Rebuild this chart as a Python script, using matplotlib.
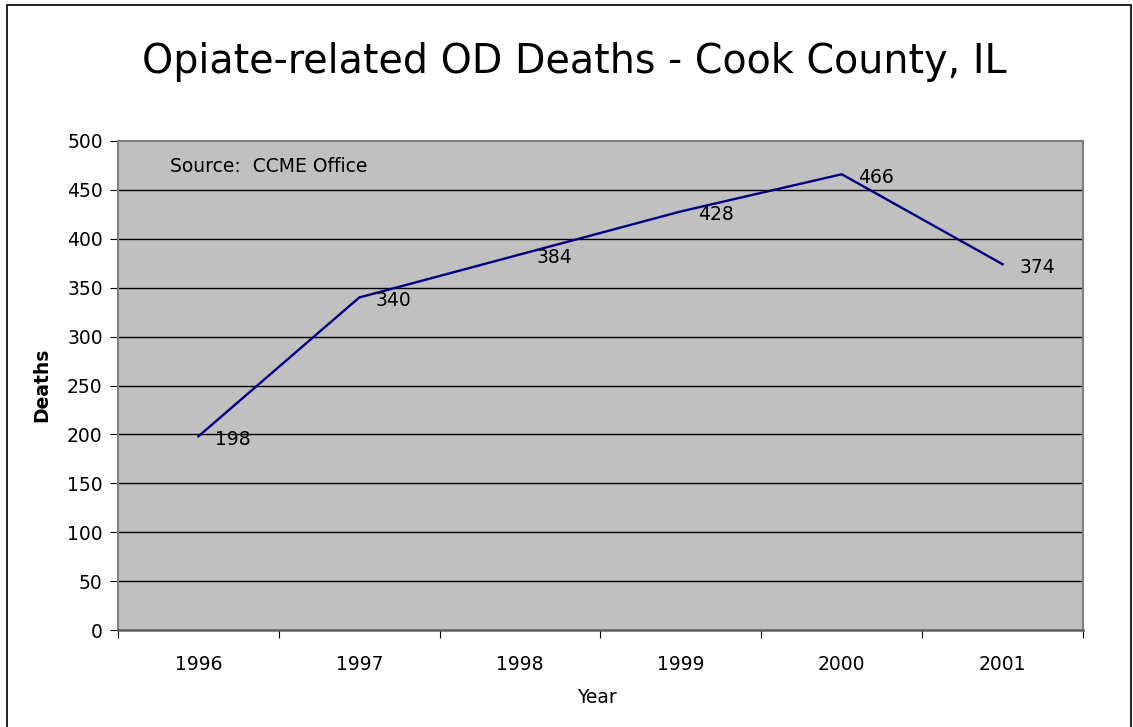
import matplotlib
matplotlib.use("Agg")
import matplotlib.pyplot as plt
from matplotlib.patches import Rectangle

years = ["1996", "1997", "1998", "1999", "2000", "2001"]
deaths = [198, 340, 384, 428, 466, 374]
yticks = [0, 50, 100, 150, 200, 250, 300, 350, 400, 450, 500]

plt.rcParams['font.family'] = ['DejaVu Sans']
fs = 13.5
fig = plt.figure(figsize=(11.33, 7.27), dpi=100)
fig.patch.set_facecolor('white')
fig.patches.append(Rectangle((7/1133, -0.05), (1131-7)/1133, 1 - 5/727 + 0.05,
                             transform=fig.transFigure, fill=False,
                             edgecolor='black', linewidth=1.2))

ax = fig.add_axes([118/1133, 1 - 630/727, (1083-118)/1133, (630-141)/727])
ax.set_facecolor('#C0C0C0')
x = list(range(len(years)))
ax.plot(x, deaths, color='#000080', linewidth=1.7, zorder=3)
for xi, v in zip(x, deaths):
    ax.annotate(str(v), (xi, v), xytext=(12, -2), textcoords='offset points',
                ha='left', va='center', fontsize=fs, color='black')

ax.set_xlim(-0.5, len(years) - 0.5)
ax.set_ylim(0, 500)
ax.set_yticks(yticks)
ax.set_yticklabels([str(t) for t in yticks], fontsize=fs)
for t in yticks[1:-1]:
    ax.axhline(t, color='black', linewidth=1.0, zorder=1)

ax.set_xticks([i - 0.5 for i in range(len(years) + 1)])
ax.set_xticklabels([])
ax.set_xticks(x, minor=True)
ax.set_xticklabels(years, minor=True, fontsize=fs)
ax.tick_params(axis='x', which='major', direction='out', length=6, color='black')
ax.tick_params(axis='x', which='minor', length=0, pad=18)
ax.tick_params(axis='y', direction='out', length=6, pad=5, color='black')

for s in ['top', 'right', 'left']:
    ax.spines[s].set_color('#808080')
    ax.spines[s].set_linewidth(1.5)
ax.spines['bottom'].set_color('#606060')
ax.spines['bottom'].set_linewidth(1.8)

ax.text(0.054, 0.947, "Source:  CCME Office", transform=ax.transAxes,
        ha='left', va='center', fontsize=fs)

fig.text(0.507, 0.915, "Opiate-related OD Deaths - Cook County, IL",
         ha='center', va='center', fontsize=28.5)
fig.text(0.037, 0.47, "Deaths", rotation=90, ha='center', va='center',
         fontsize=fs, fontweight='bold')
fig.text(0.527, 0.041, "Year", ha='center', va='center', fontsize=fs)

fig.savefig("out.png", dpi=100)
